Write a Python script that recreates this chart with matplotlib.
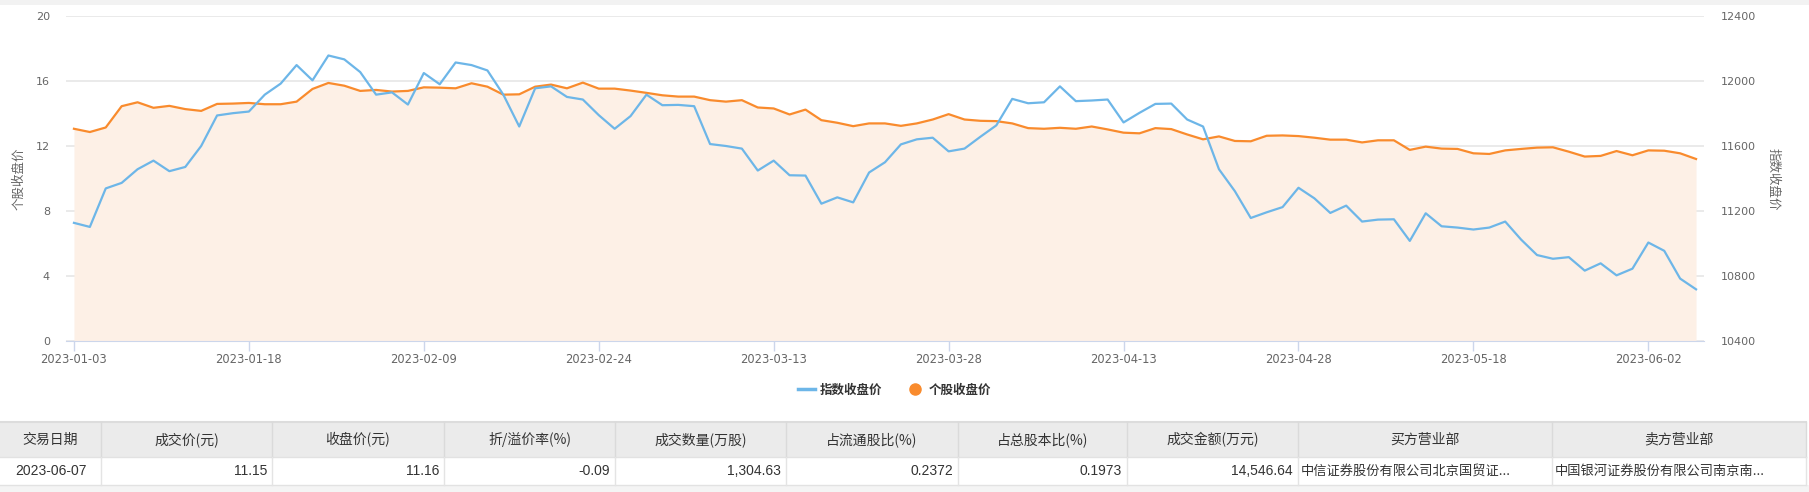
import matplotlib
matplotlib.use('Agg')
import matplotlib.pyplot as plt
import pandas as pd
from matplotlib.lines import Line2D
from matplotlib.patches import Rectangle

plt.rcParams['font.family'] = ['Noto Sans CJK SC', 'DejaVu Sans']

# trading days 2023-01-03 .. 2023-06-07 (SSE calendar)
holidays = ['2023-01-23', '2023-01-24', '2023-01-25', '2023-01-26', '2023-01-27',
            '2023-04-05', '2023-05-01', '2023-05-02', '2023-05-03']
dates = pd.bdate_range('2023-01-03', '2023-06-07', freq='C', holidays=holidays)
date_labels = [d.strftime('%Y-%m-%d') for d in dates]

# 个股收盘价 (left axis)
stock_close = [
    13.06, 12.86, 13.14, 14.45, 14.69, 14.35, 14.47, 14.27, 14.16, 14.59, 14.61,
    14.65, 14.57, 14.57, 14.73, 15.51, 15.88, 15.71, 15.39, 15.45, 15.35,
    15.39, 15.61, 15.59, 15.55, 15.86, 15.65, 15.16, 15.18, 15.65, 15.78, 15.55,
    15.90, 15.53, 15.53, 15.41, 15.27, 15.12, 15.04, 15.04, 14.82, 14.73,
    14.82, 14.37, 14.31, 13.94, 14.24, 13.59, 13.43, 13.22, 13.39, 13.39, 13.24,
    13.39, 13.63, 13.96, 13.63, 13.55, 13.53, 13.39, 13.10, 13.06, 13.12,
    13.06, 13.20, 13.02, 12.82, 12.78, 13.10, 13.04, 12.71, 12.41, 12.59,
    12.31, 12.29, 12.63, 12.65, 12.61, 12.51, 12.39, 12.39, 12.22, 12.35,
    12.35, 11.76, 11.96, 11.84, 11.82, 11.55, 11.51, 11.73, 11.82, 11.90,
    11.92, 11.65, 11.35, 11.39, 11.69, 11.43, 11.73, 11.71, 11.55, 11.20,
]

# 指数收盘价 (right axis)
index_close = [
    11127, 11102, 11339, 11373, 11457, 11510, 11445, 11471, 11600, 11788, 11802,
    11812, 11916, 11984, 12098, 12004, 12157, 12133, 12055, 11916, 11930,
    11855, 12049, 11980, 12114, 12098, 12065, 11916, 11720, 11955, 11967, 11902,
    11886, 11790, 11706, 11784, 11916, 11851, 11853, 11845, 11612, 11600,
    11584, 11449, 11510, 11420, 11418, 11245, 11284, 11253, 11437, 11500, 11610,
    11641, 11651, 11567, 11584, 11657, 11727, 11890, 11863, 11869, 11967,
    11876, 11880, 11886, 11745, 11804, 11859, 11861, 11763, 11720, 11457,
    11322, 11157, 11192, 11224, 11343, 11278, 11188, 11233, 11135, 11147,
    11149, 11016, 11186, 11106, 11098, 11086, 11098, 11135, 11024, 10929,
    10906, 10916, 10833, 10878, 10804, 10845, 11006, 10955, 10784, 10718,
]

left_ticks = [0, 4, 8, 12, 16, 20]
right_ticks = [10400, 10800, 11200, 11600, 12000, 12400]

table_header = ['交易日期', '成交价(元)', '收盘价(元)', '折/溢价率(%)', '成交数量(万股)',
                '占流通股比(%)', '占总股本比(%)', '成交金额(万元)', '买方营业部', '卖方营业部']
table_row = ['2023-06-07', '11.15', '11.16', '-0.09', '1,304.63', '0.2372', '0.1973',
             '14,546.64', '中信证券股份有限公司北京国贸证...', '中国银河证券股份有限公司南京南...']
col_align = ['center', 'right', 'right', 'right', 'right', 'right', 'right', 'right', 'left', 'left']

ORANGE = '#f98b2d'
BLUE = '#6db6e8'
FILL = '#fdf0e6'
GRID = '#e6e6e6'
AXIS = '#ccd6eb'
TXT = '#666666'

W, H = 1809, 492
fig = plt.figure(figsize=(W / 100, H / 100), dpi=100)

# background overlay in pixel coords (top band + table)
bg = fig.add_axes([0, 0, 1, 1], zorder=0)
bg.set_xlim(0, W)
bg.set_ylim(H, 0)
bg.axis('off')
bg.add_patch(Rectangle((0, 0), W, 5, color='#f2f2f2', lw=0))

# main chart
x0, x1, ytop, ybot = 66, 1704, 16, 341
ax = fig.add_axes([x0 / W, 1 - ybot / H, (x1 - x0) / W, (ybot - ytop) / H], zorder=2)
ax.patch.set_alpha(0)
xs = list(range(len(date_labels)))

ax.fill_between(xs, 0, stock_close, color=FILL, lw=0, zorder=1)
ax.plot(xs, stock_close, color=ORANGE, lw=1.6, zorder=3)
ax.set_xlim(-0.5, len(xs) - 0.5)
ax.set_ylim(0, 20)
ax.set_yticks(left_ticks)
ax.grid(axis='y', color=GRID, lw=1.2, zorder=0)
ax.set_axisbelow(True)

tick_pos = xs[::11]
ax.set_xticks(tick_pos)
ax.set_xticklabels([date_labels[i] for i in tick_pos], family='DejaVu Sans')

for s in ['top', 'left', 'right']:
    ax.spines[s].set_visible(False)
ax.spines['bottom'].set_color(AXIS)
ax.tick_params(axis='x', colors=AXIS, length=7, width=1, pad=1.5, labelcolor=TXT, labelsize=8.3)
ax.tick_params(axis='y', length=0, pad=11.5, labelcolor=TXT, labelsize=8)
for lb in ax.get_yticklabels():
    lb.set_family('DejaVu Sans')

ax2 = ax.twinx()
ax2.plot(xs, index_close, color=BLUE, lw=1.6, zorder=3)
ax2.set_ylim(10400, 12400)
ax2.set_yticks(right_ticks)
for s in ['top', 'left', 'right', 'bottom']:
    ax2.spines[s].set_visible(False)
ax2.tick_params(axis='y', length=0, pad=12.3, labelcolor=TXT, labelsize=8)
for lb in ax2.get_yticklabels():
    lb.set_family('DejaVu Sans')

fig.text(19 / W, 1 - 179 / H, '个股收盘价', rotation=90, ha='center', va='center',
         color=TXT, fontsize=9)
fig.text(1773 / W, 1 - 179 / H, '指数收盘价', rotation=270, ha='center', va='center',
         color=TXT, fontsize=9)

handles = [Line2D([], [], color=BLUE, lw=2.5),
           Line2D([], [], color=ORANGE, lw=0, marker='o', markersize=8)]
fig.legend(handles, ['指数收盘价', '个股收盘价'], loc='center',
           bbox_to_anchor=(894.5 / W, 1 - 390 / H), ncol=2, frameon=False,
           prop={'size': 9, 'weight': 'bold'}, labelcolor='#333333',
           handlelength=1.36, handletextpad=0.4, columnspacing=1.9,
           borderpad=0, borderaxespad=0)

# table
col_edges = [0, 101, 272, 444, 615, 786, 958, 1127, 1298, 1552, 1806]
h_top, h_bot, r_bot = 422, 457, 485
bg.add_patch(Rectangle((0, h_top), col_edges[-1], h_bot - h_top, facecolor='#ebebeb',
                       edgecolor='none'))
bg.add_patch(Rectangle((0, r_bot), W, H - r_bot, facecolor='#f4f4f4', edgecolor='none'))
bg.plot([0, col_edges[-1]], [h_top, h_top], color='#dcdcdc', lw=1.5)
bg.plot([0, col_edges[-1]], [h_bot, h_bot], color='#e2e2e2', lw=1)
bg.plot([0, col_edges[-1]], [r_bot, r_bot], color='#e2e2e2', lw=1)
for e in col_edges[1:]:
    bg.plot([e, e], [h_top, h_bot], color='#dadada', lw=1)
    bg.plot([e, e], [h_bot, r_bot], color='#e4e4e4', lw=1)

for i, name in enumerate(table_header):
    cx = (col_edges[i] + col_edges[i + 1]) / 2
    bg.text(cx, (h_top + h_bot) / 2, name, ha='center', va='center', fontsize=10,
            color='#333333')

for i, val in enumerate(table_row):
    cy = (h_bot + r_bot) / 2
    if col_align[i] == 'center':
        tx = (col_edges[i] + col_edges[i + 1]) / 2
    elif col_align[i] == 'right':
        tx = col_edges[i + 1] - 5
    else:
        tx = col_edges[i] + 3
    fam = ['Liberation Sans', 'Noto Sans CJK SC'] if i < 8 else ['Noto Sans CJK SC', 'DejaVu Sans']
    bg.text(tx, cy, val, ha=col_align[i], va='center', fontsize=10 if i < 8 else 9.5,
            color='#333333', family=fam)

fig.savefig('out.png', dpi=100)
